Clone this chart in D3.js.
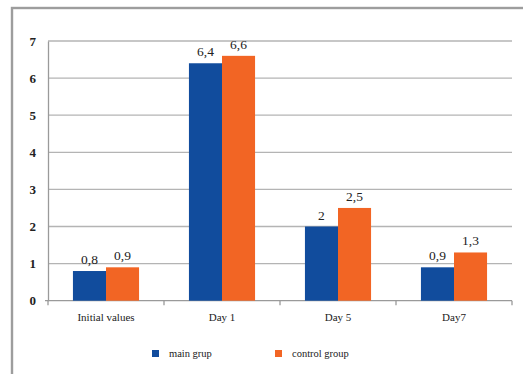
<!DOCTYPE html>
<html>
<head>
<meta charset="utf-8">
<script src="https://cdn.jsdelivr.net/npm/d3@7"></script>
<style>
  html, body { margin: 0; padding: 0; background: #fff; }
  svg { display: block; }
</style>
</head>
<body>
<svg id="chart" width="523" height="374"></svg>
<script>
// Chart data
const categories = ["Initial values", "Day 1", "Day 5", "Day7"];
const seriesNames = ["main grup", "control group"];
const mainGroup = [0.8, 6.4, 2, 0.9];
const controlGroup = [0.9, 6.6, 2.5, 1.3];
const valueLabels = [["0,8", "6,4", "2", "0,9"], ["0,9", "6,6", "2,5", "1,3"]];
const yTicks = [0, 1, 2, 3, 4, 5, 6, 7];
const colors = ["#114c9d", "#f26524"];

(function drawChart() {
  const series = [mainGroup, controlGroup];
  const svg = d3.select("#chart");
  const W = 523, H = 374;
  const plotLeft = 48, plotRight = 512, plotTop = 41, plotBottom = 300.7;
  const serif = "'Liberation Serif', 'Times New Roman', serif";

  // Outer frame (extends past the right and bottom edges)
  svg.append("rect")
    .attr("x", 12).attr("y", 8)
    .attr("width", W + 20).attr("height", H + 20)
    .attr("fill", "#fff")
    .attr("stroke", "#9d9d9d").attr("stroke-width", 2.4);

  const x0 = d3.scaleBand().domain(categories).range([plotLeft, plotRight])
    .paddingInner(0.43).paddingOuter(0.215);
  const x1 = d3.scaleBand().domain(d3.range(seriesNames.length))
    .range([0, x0.bandwidth()]);
  const xCat = d3.scaleBand().domain(categories).range([plotLeft, plotRight]);
  const y = d3.scaleLinear().domain([0, 7]).range([plotBottom, plotTop]);

  // Horizontal gridlines
  svg.append("g").selectAll("line").data(yTicks.filter(t => t > 0)).join("line")
    .attr("x1", plotLeft).attr("x2", plotRight)
    .attr("y1", d => y(d)).attr("y2", d => y(d))
    .attr("stroke", "#b4b4b4").attr("stroke-width", 1.3);

  // Y axis
  const yAxis = svg.append("g")
    .attr("transform", `translate(${plotLeft},0)`)
    .call(d3.axisLeft(y).tickValues(yTicks).tickSize(0).tickPadding(12).tickFormat(d3.format("d")));
  yAxis.select(".domain").attr("stroke", "#9a9a9a").attr("stroke-width", 1.3);
  yAxis.selectAll("text")
    .attr("font-family", serif)
    .attr("font-size", 13).attr("font-weight", "bold").attr("fill", "#222");

  // X axis baseline with category boundary ticks
  const xAxisG = svg.append("g");
  xAxisG.append("line")
    .attr("x1", plotLeft - 3).attr("x2", plotRight)
    .attr("y1", plotBottom).attr("y2", plotBottom)
    .attr("stroke", "#9a9a9a").attr("stroke-width", 1.3);
  const bounds = categories.map(c => xCat(c))
    .concat([xCat(categories[categories.length - 1]) + xCat.bandwidth()]);
  xAxisG.selectAll("line.tick").data(bounds).join("line")
    .attr("class", "tick")
    .attr("x1", d => d).attr("x2", d => d)
    .attr("y1", plotBottom).attr("y2", plotBottom + 4.5)
    .attr("stroke", "#9a9a9a").attr("stroke-width", 1.3);
  xAxisG.selectAll("text").data(categories).join("text")
    .attr("x", d => xCat(d) + xCat.bandwidth() / 2)
    .attr("y", 321)
    .attr("text-anchor", "middle")
    .attr("font-family", serif)
    .attr("font-size", 11).attr("fill", "#222")
    .text(d => d);

  // Bars
  const groups = svg.append("g").selectAll("g").data(categories).join("g")
    .attr("transform", d => `translate(${x0(d)},0)`);
  groups.selectAll("rect").data((d, i) => series.map((s, k) => ({ k, v: s[i] }))).join("rect")
    .attr("x", d => x1(d.k))
    .attr("width", x1.bandwidth())
    .attr("y", d => y(d.v))
    .attr("height", d => y(0) - y(d.v))
    .attr("fill", d => colors[d.k]);

  // Value labels
  groups.selectAll("text").data((d, i) => series.map((s, k) => ({ k, v: s[i], t: valueLabels[k][i] }))).join("text")
    .attr("x", d => x1(d.k) + x1.bandwidth() / 2)
    .attr("y", d => y(d.v) - 7)
    .attr("text-anchor", "middle")
    .attr("font-family", serif)
    .attr("font-size", 13.5).attr("fill", "#222")
    .text(d => d.t);

  // Legend
  const legendX = [152, 275];
  const legend = svg.append("g").selectAll("g").data(seriesNames).join("g")
    .attr("transform", (d, i) => `translate(${legendX[i]},350)`);
  legend.append("rect")
    .attr("width", 7).attr("height", 7)
    .attr("fill", (d, i) => colors[i]);
  legend.append("text")
    .attr("x", 17).attr("y", 7)
    .attr("font-family", serif)
    .attr("font-size", 10.5).attr("fill", "#222")
    .text(d => d);
})();
</script>
</body>
</html>
